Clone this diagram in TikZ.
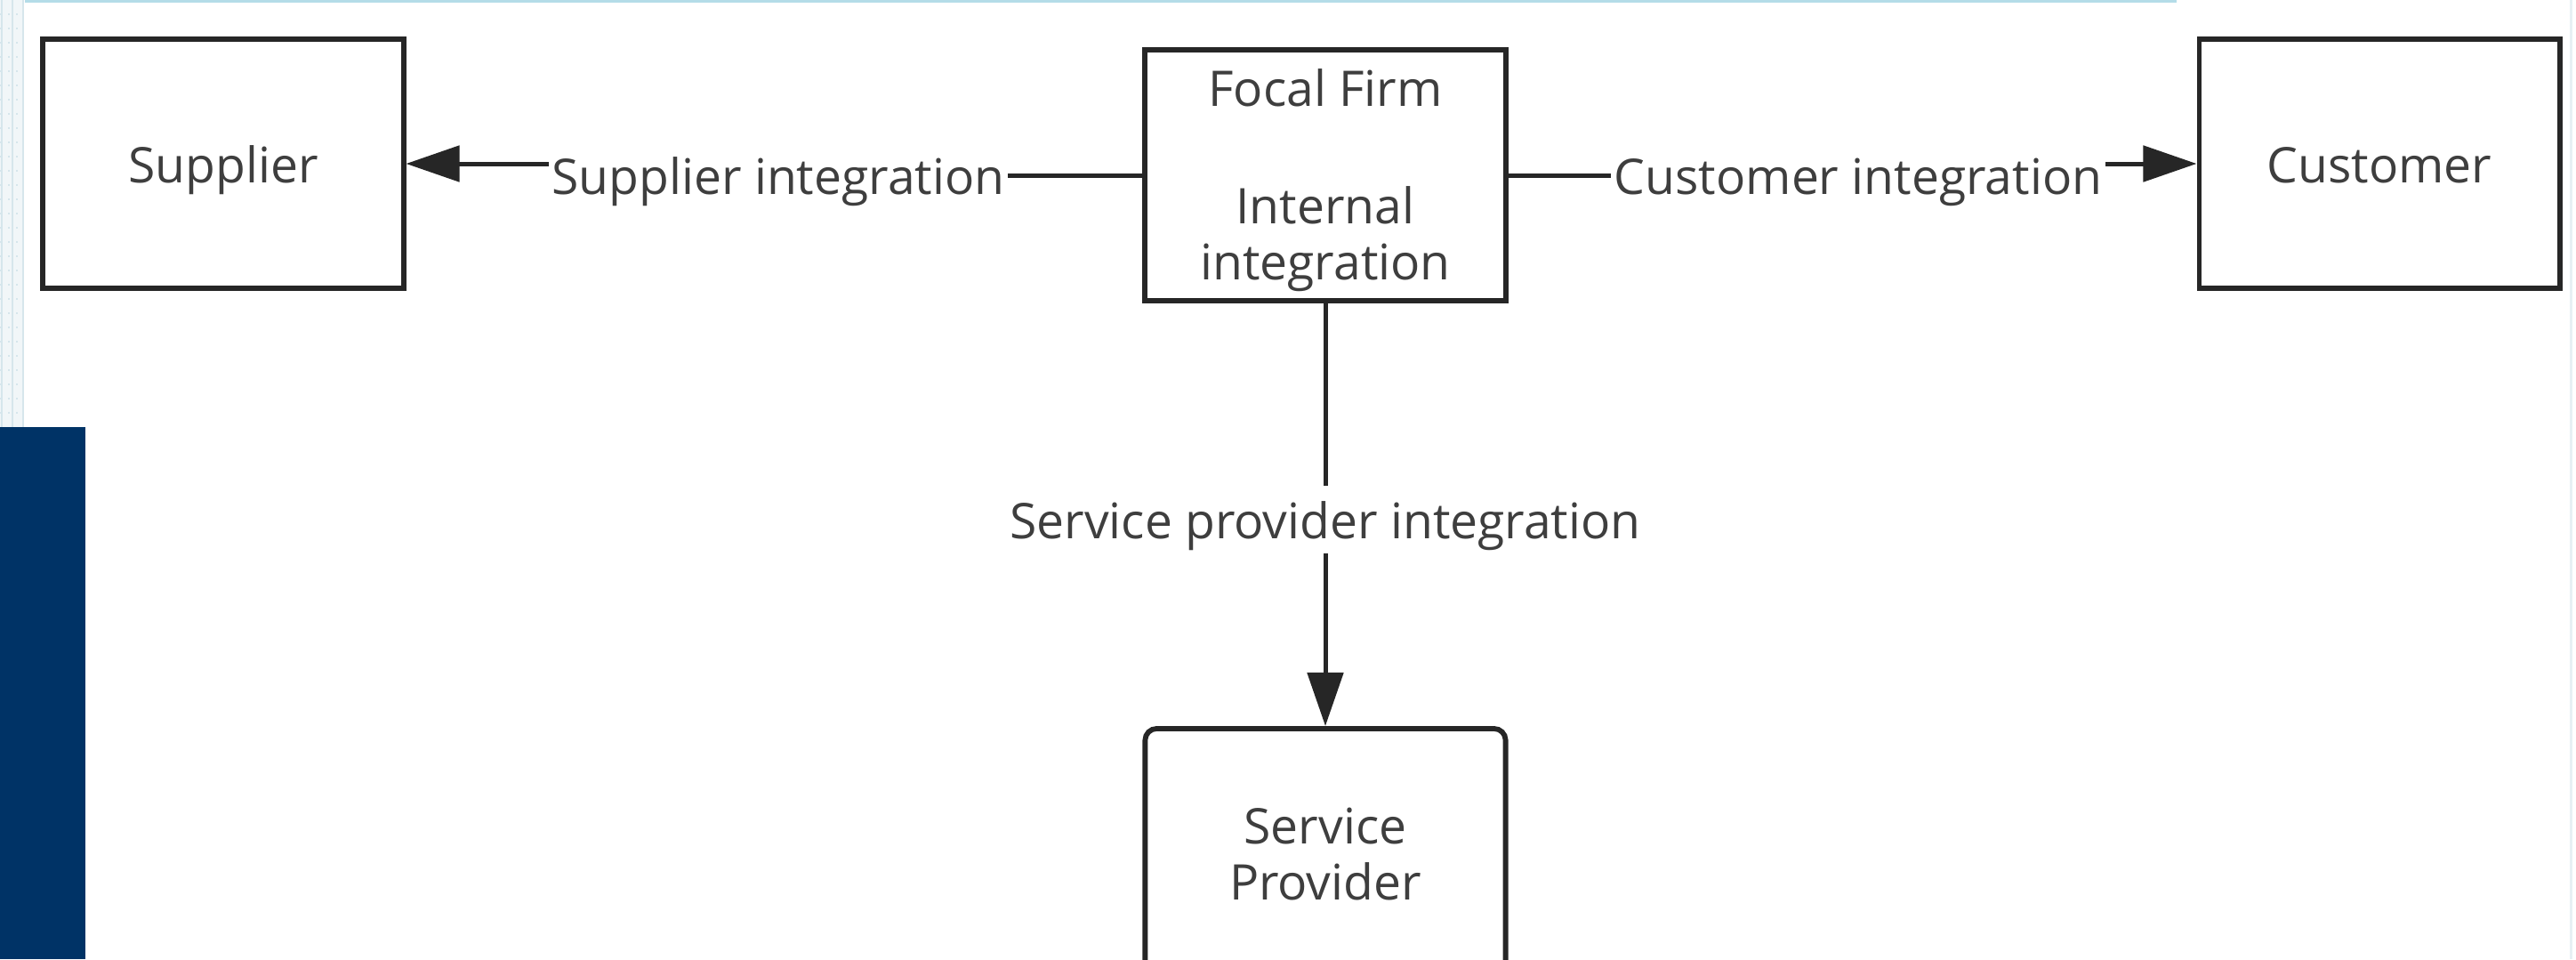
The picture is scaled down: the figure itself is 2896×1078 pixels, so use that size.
\documentclass[tikz,border=0pt]{standalone}
\usepackage{fontspec}
\setmainfont{Open Sans}
\usetikzlibrary{arrows.meta}
\definecolor{navy}{RGB}{0,51,102}
\definecolor{ink}{HTML}{262626}
\definecolor{txt}{HTML}{3E3E3E}
\definecolor{gridc}{HTML}{D6E6EC}
\definecolor{topline}{HTML}{B4DCE8}
\newcommand{\lowertext}[1]{\raisebox{-0.075cm}[\height][\depth]{#1\vphantom{lp}}}
\begin{document}
\begin{tikzpicture}[x=0.01cm,y=-0.01cm,
  box/.style={draw=ink, line width=0.058cm, fill=white, minimum width=4.05cm,
              minimum height=2.8cm, align=center, text=txt,
              font=\fontsize{15.7}{18}\selectfont},
  roundbox/.style={box, rounded corners=0.13cm},
  conn/.style={draw=ink, line width=0.05cm},
  arr/.style={conn, -{Triangle[length=0.6cm,width=0.4cm]}},
  lab/.style={fill=white, text=txt, inner xsep=1pt, inner ysep=3pt,
              font=\fontsize{15.7}{18}\selectfont}]
\useasboundingbox (0,0) rectangle (2896,1078);
\clip (0,0) rectangle (2896,1078);
% screenshot background details
\fill[white] (0,0) rectangle (2896,1078);
\fill[gridc!35] (0,0) rectangle (27,480);
\foreach \xx in {2,14,26} \draw[gridc, line width=0.02cm] (\xx,0) -- (\xx,480);
\foreach \yy in {16,32,...,470} \draw[gridc, line width=0.02cm, dotted] (0,\yy) -- (27,\yy);
\draw[topline, line width=0.04cm] (28,1) -- (2447,1);
\draw[gridc!60, line width=0.03cm] (2890,0) -- (2890,1078);
\fill[navy] (0,480) rectangle (96,1078);
% nodes
\node[box] (sup) at (251,184) {\lowertext{Supplier}};
\node[box] (focal) at (1490,197) {\lowertext{\begin{tabular}{@{}c@{}}Focal Firm\\[19.5pt]Internal\\integration\end{tabular}}};
\node[box] (cust) at (2675,184) {\lowertext{Customer}};
\node[roundbox] (serv) at (1490,959) {\raisebox{-0.085cm}[\height][\depth]{\begin{tabular}{@{}c@{}}Service\\Provider\end{tabular}}};
% junction points behind labels
\coordinate (sj) at (875,197);
\coordinate (cj) at (2089,197);
\coordinate (pj) at (1490,584);
% connectors
\draw[arr] (focal.west) -- (sj) |- (sup.east);
\draw[arr] (focal.east) -- (cj) |- (cust.west);
\draw[arr] (focal.south) -- (pj) -- (serv.north);
% labels
\node[lab] (sl) at (sj) {\lowertext{Supplier integration}};
\node[lab] (cl) at (cj) {\lowertext{Customer integration}};
\node[lab] (pl) at (pj) {\lowertext{Service provider integration}};
\end{tikzpicture}
\end{document}
